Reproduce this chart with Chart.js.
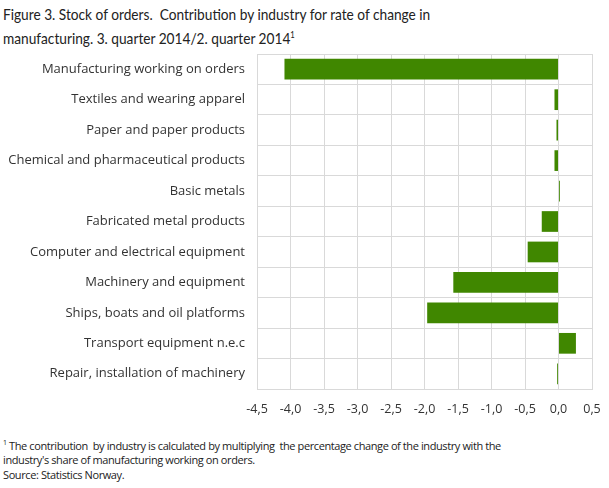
<!DOCTYPE html>
<html lang="en">
<head>
  <meta charset="utf-8">
  <title>Stock of orders. Contribution by industry</title>
  <script src="https://cdn.jsdelivr.net/npm/chart.js"></script>
  <style>
    body { margin: 0; background: #fff; }
    #wrap { position: relative; width: 609px; height: 488px; overflow: hidden; }
    #title { position: absolute; left: 3px; top: 3px; font-family: Lato, sans-serif; white-space: nowrap;
      font-size: 16px; line-height: 21px; color: #222; transform: scaleX(0.855); transform-origin: left top; }
    #title sup { font-size: 9px; }
    #chartBox { position: absolute; left: 0; top: 0; width: 609px; height: 430px; }
    #notes { position: absolute; left: 3px; top: 436px; font-family: "Open Sans", sans-serif; white-space: nowrap;
      font-size: 11px; line-height: 14.5px; letter-spacing: -0.4px; color: #222; }
    #notes sup { font-size: 7px; }
  </style>
</head>
<body>
  <div id="wrap">
    <div id="title">Figure 3. Stock of orders.&nbsp; Contribution by industry for rate of change in<br>
      manufacturing. 3. quarter 2014/2. quarter 2014<sup>1</sup></div>
    <div id="chartBox"><canvas id="chart"></canvas></div>
    <div id="notes"><sup>1</sup> The contribution&nbsp; by industry is calculated by multiplying&nbsp; the percentage change of the industry with the<br>
      industry's share of manufacturing working on orders.<br>
      Source: Statistics Norway.</div>
  </div>

  <script>
    // industries, top to bottom
    const industries = [
      'Manufacturing working on orders',
      'Textiles and wearing apparel',
      'Paper and paper products',
      'Chemical and pharmaceutical products',
      'Basic metals',
      'Fabricated metal products',
      'Computer and electrical equipment',
      'Machinery and equipment',
      'Ships, boats and oil platforms',
      'Transport equipment n.e.c',
      'Repair, installation of machinery'
    ];
    // contribution, percentage points
    const contribution = [-4.09, -0.06, -0.03, -0.06, 0.02, -0.25, -0.46, -1.57, -1.96, 0.26, -0.02];
    const xTicks = [-4.5, -4.0, -3.5, -3.0, -2.5, -2.0, -1.5, -1.0, -0.5, 0.0, 0.5];

    const gridColor = '#d9d9d9';

    new Chart(document.getElementById('chart'), {
      type: 'bar',
      data: {
        labels: industries,
        datasets: [{
          data: contribution,
          backgroundColor: '#408700',
          categoryPercentage: 0.68,
          barPercentage: 1
        }]
      },
      options: {
        indexAxis: 'y',
        responsive: true,
        maintainAspectRatio: false,
        animation: false,
        layout: { padding: { top: 54, right: 17, bottom: 0, left: 0 } },
        plugins: { legend: { display: false }, tooltip: { enabled: false } },
        scales: {
          x: {
            min: xTicks[0],
            max: xTicks[xTicks.length - 1],
            afterBuildTicks: function (axis) {
              axis.ticks = xTicks.map(v => ({ value: v }));
            },
            // keep the plot edges where the reference has them
            afterFit: function (axis) { axis.paddingLeft = 0; axis.paddingRight = 0; },
            grid: { color: gridColor, drawTicks: false },
            border: { color: gridColor },
            ticks: {
              padding: 13,
              color: '#333',
              font: { family: 'Open Sans', size: 12.5 },
              callback: function (value) {
                return Math.abs(value) < 1e-9 ? '0,0' : value.toFixed(1).replace('.', ',');
              }
            }
          },
          y: {
            grid: { color: gridColor, offset: true, drawTicks: false },
            border: { color: gridColor },
            afterFit: function (axis) { axis.width = 257; },
            ticks: { padding: 12, color: '#333', font: { family: 'Open Sans', size: 13 } }
          }
        }
      }
    });
  </script>
</body>
</html>
